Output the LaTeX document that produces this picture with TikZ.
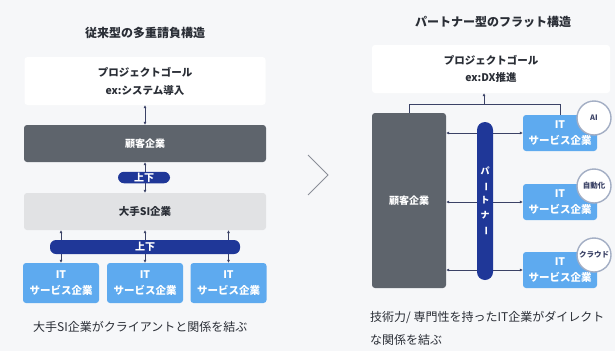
\documentclass[tikz,border=0pt]{standalone}
\usepackage{fontspec}
\usepackage{graphicx}
\setmainfont{Noto Sans CJK JP}
\usetikzlibrary{arrows.meta}
\definecolor{bgc}{HTML}{F6F7F9}
\definecolor{darkbox}{HTML}{5E646C}
\definecolor{sibox}{HTML}{E1E2E4}
\definecolor{itbox}{HTML}{5EAAEF}
\definecolor{pillc}{HTML}{1F3798}
\definecolor{linec}{HTML}{3B4266}
\definecolor{txt}{HTML}{2A2E36}
\definecolor{circb}{HTML}{A3AEC4}
\definecolor{chev}{HTML}{8A8F98}
\tikzset{
  basebox/.style={rectangle, rounded corners=3pt, inner sep=0pt, align=center},
  goalbox/.style={basebox, fill=white, text=txt, font=\fontsize{10.5}{18}\selectfont\bfseries},
  custbox/.style={basebox, fill=darkbox, text=white, font=\fontsize{10}{12}\selectfont\bfseries},
  sibx/.style={basebox, fill=sibox, text=txt, font=\fontsize{10.5}{12}\selectfont\bfseries},
  itbx/.style={basebox, fill=itbox, text=white, font=\fontsize{10.5}{16}\selectfont\bfseries},
  pill/.style={rectangle, rounded corners=6pt, fill=pillc, text=white, inner sep=0pt, align=center, font=\fontsize{10}{12}\selectfont\bfseries},
  conn/.style={draw=linec, line width=0.9pt},
  arr/.style={conn, {Latex[length=3pt,width=3pt]}-{Latex[length=3pt,width=3pt]}},
  arrone/.style={conn, -{Latex[length=3pt,width=3pt]}},
  badgering/.style={fill=white, draw=circb, line width=1.4pt},
  badge/.style={inner sep=0pt, text=linec, font=\fontsize{7.5}{8}\selectfont\bfseries},
  ttl/.style={text=txt, font=\fontsize{12}{14}\selectfont\bfseries},
  note/.style={text=txt, anchor=west, inner sep=0pt, font=\fontsize{12}{14}\selectfont}
}
\begin{document}
\begin{tikzpicture}[x=1pt,y=-1pt]
\fill[bgc] (0,0) rectangle (615,351);
\useasboundingbox (0,0) rectangle (615,351);

% ---------- left ----------
\node[ttl] (tL) at (145,33) {従来型の多重請負構造};
\node[goalbox, minimum width=241pt, minimum height=48pt] (gL) at (145,81) {プロジェクトゴール\\ex:システム導入};
\node[custbox, minimum width=242pt, minimum height=37pt] (cL) at (145,143.5) {顧客企業};
\node[sibx, minimum width=242pt, minimum height=37pt] (sL) at (145,211.5) {大手SI企業};
\node[itbx, minimum width=76pt, minimum height=40pt] (i1L) at (61,283) {IT\\サービス企業};
\node[itbx, minimum width=76pt, minimum height=40pt] (i2L) at (145,283) {IT\\サービス企業};
\node[itbx, minimum width=76pt, minimum height=40pt] (i3L) at (228.5,283) {IT\\サービス企業};

\draw[arr] (gL.south) -- (cL.north);
\draw[arr] (cL.south) -- (sL.north);
\draw[arr] (sL.south -| i1L.north) -- (i1L.north);
\draw[arr] (sL.south -| i2L.north) -- (i2L.north);
\draw[arr] (sL.south -| i3L.north) -- (i3L.north);

\node[pill, minimum width=52pt, minimum height=11.5pt] (p1) at (144,177.5) {上下};
\node[pill, minimum width=190pt, minimum height=14pt] (p2) at (145,247) {上下};

\node[note] (nL) at (33,327) {大手SI企業がクライアントと関係を結ぶ};

% chevron
\draw[chev, line width=1pt, line join=miter] (308,155) -- (328,175) -- (308,195);

% ---------- right ----------
\node[ttl] (tR) at (493,22) {パートナー型のフラット構造};
\node[goalbox, minimum width=238pt, minimum height=48pt, font=\fontsize{10.5}{17}\selectfont\bfseries] (gR) at (491,69) {プロジェクトゴール\\ex:DX推進};
\node[custbox, minimum width=74pt, minimum height=175pt] (cR) at (409,200.5) {顧客企業};
\node[itbx, minimum width=74pt, minimum height=36pt] (i1R) at (560,133) {IT\\サービス企業};
\node[itbx, minimum width=74pt, minimum height=36pt] (i2R) at (560,202) {IT\\サービス企業};
\node[itbx, minimum width=74pt, minimum height=36pt] (i3R) at (560,270) {IT\\サービス企業};

\coordinate (bar) at (484,104);
\draw[conn] (cR.north) -- (cR.north |- bar) -- (i1R.north |- bar) -- (i1R.north);
\draw[arrone] (bar) -- (gR.south -| bar);

\draw[arr] (cR.east |- i1R.west) -- (i1R.west);
\draw[arr] (cR.east |- i2R.west) -- (i2R.west);
\draw[arr] (cR.east |- i3R.west) -- (i3R.west);

\node[pill, rounded corners=8pt, minimum width=16pt, minimum height=158pt, font=\fontsize{9}{14.5}\selectfont\bfseries] (pR) at (485,201)
  {パ\\\rotatebox[origin=c]{-90}{ー}\\ト\\ナ\\\rotatebox[origin=c]{-90}{ー}};

\path[badgering] (594,118) circle[radius=17];
\path[badgering] (594,186) circle[radius=17];
\path[badgering] (594,255) circle[radius=17];
\node[badge] (bA) at (594,118) {AI};
\node[badge] (bB) at (594,186) {自動化};
\node[badge] (bC) at (594,255) {クラウド};

\node[note] (nR1) at (370,317) {技術力/ 専門性を持ったIT企業がダイレクト};
\node[note] (nR2) at (370,340) {な関係を結ぶ};
\end{tikzpicture}
\end{document}
